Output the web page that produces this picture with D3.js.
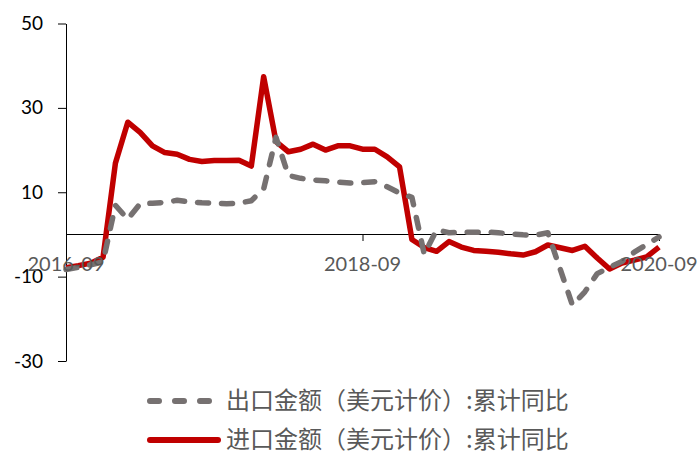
<!DOCTYPE html>
<html>
<head>
<meta charset="utf-8">
<script src="https://cdn.jsdelivr.net/npm/d3@7"></script>
<style>
body { margin: 0; background: #fff; }
</style>
</head>
<body>
<div id="chart"></div>
<script>
var width = 697, height = 453;

// months with data (no separate Jan 2020 figure)
var months = [
  "2016-09","2016-10","2016-11","2016-12",
  "2017-01","2017-02","2017-03","2017-04","2017-05","2017-06","2017-07","2017-08","2017-09","2017-10","2017-11","2017-12",
  "2018-01","2018-02","2018-03","2018-04","2018-05","2018-06","2018-07","2018-08","2018-09","2018-10","2018-11","2018-12",
  "2019-01","2019-02","2019-03","2019-04","2019-05","2019-06","2019-07","2019-08","2019-09","2019-10","2019-11","2019-12",
  "2020-02","2020-03","2020-04","2020-05","2020-06","2020-07","2020-08","2020-09"
];
var exportYoY = [
  -8.3, -7.8, -7.2, -6.5,
  6.9, 3.6, 7.3, 7.4, 7.6, 8.1, 7.7, 7.5, 7.4, 7.3, 7.4, 8.0,
  10.8, 23.0, 14.0, 13.3, 12.9, 12.7, 12.4, 12.2, 12.3, 12.5, 11.3, 9.8,
  8.8, -4.7, 1.1, 0.4, 0.5, 0.5, 0.6, 0.4, 0.1, -0.1, -0.2, 0.4,
  -16.8, -13.6, -9.3, -7.8, -6.4, -4.2, -2.4, -0.6
];
var importYoY = [
  -7.9, -7.4, -6.8, -5.4,
  16.9, 26.6, 24.2, 21.0, 19.4, 19.0, 17.8, 17.3, 17.5, 17.5, 17.6, 16.2,
  37.4, 22.0, 19.6, 20.2, 21.4, 20.0, 21.0, 21.0, 20.2, 20.2, 18.4, 16.0,
  -1.2, -3.1, -4.0, -1.7, -3.0, -3.8, -4.0, -4.2, -4.6, -4.9, -4.1, -2.5,
  -3.8, -2.8, -5.6, -8.2, -6.8, -6.1, -5.3, -3.0
];
var yTicks = [-30, -10, 10, 30, 50];
var xTickLabels = ["2016-09", "2018-09", "2020-09"];
var seriesNames = ["出口金额（美元计价）:累计同比", "进口金额（美元计价）:累计同比"];

var grey = "#767171", red = "#C00000";

function monthIndex(s) {
  var p = s.split("-");
  return (+p[0] - 2016) * 12 + (+p[1] - 9);
}

var svg = d3.select("#chart").append("svg")
    .attr("width", width)
    .attr("height", height)
    .style("font-family", "Lato, 'Liberation Sans', sans-serif");

var x = d3.scaleLinear().domain([0, 48]).range([66, 659]);
var y = d3.scaleLinear().domain([-30, 50]).range([361, 23.5]);

// y axis
var yAxis = svg.append("g")
    .attr("transform", "translate(66,0)")
    .call(d3.axisLeft(y).tickValues(yTicks).tickSize(8).tickSizeOuter(0).tickPadding(15)
      .tickFormat(d => String(d)));  // plain hyphen like the original
yAxis.selectAll("text").attr("font-size", 19).attr("font-family", "Lato, 'Liberation Sans', sans-serif").attr("fill", "#000");
yAxis.selectAll("line, path").attr("stroke", "#000");

// x axis at zero (rounded so the 1px line stays crisp)
var xTicks = xTickLabels.map(monthIndex);
var xAxis = svg.append("g")
    .attr("transform", "translate(0," + Math.round(y(0)) + ")")
    .call(d3.axisBottom(x).tickValues(xTicks).tickSize(7).tickSizeOuter(0).tickFormat(""));
xAxis.selectAll("line, path").attr("stroke", "#000");

var data = months.map(function(m, i) {
  return {m: monthIndex(m), ex: exportYoY[i], im: importYoY[i]};
});

var lineIm = d3.line().x(d => x(d.m)).y(d => y(d.im));
var lineEx = d3.line().x(d => x(d.m)).y(d => y(d.ex));

svg.append("path")
    .datum(data)
    .attr("d", lineIm)
    .attr("fill", "none")
    .attr("stroke", red)
    .attr("stroke-width", 5.5)
    .attr("stroke-linejoin", "round");

svg.append("path")
    .datum(data)
    .attr("d", lineEx)
    .attr("fill", "none")
    .attr("stroke", grey)
    .attr("stroke-width", 5.5)
    .attr("stroke-linejoin", "round")
    .attr("stroke-linecap", "round")
    .attr("stroke-dasharray", "11,13");

// x labels sit on top of the lines
svg.append("g").selectAll("text")
    .data(xTickLabels)
    .enter().append("text")
    .attr("x", d => x(monthIndex(d)))
    .attr("y", y(0) + 37)
    .attr("text-anchor", "middle")
    .attr("font-size", 20)
    .attr("fill", "#595959")
    .text(d => d);

// legend
var legend = svg.append("g");
var rows = [
  {name: seriesNames[0], color: grey, dash: "9,16", y: 401, x2: 211},
  {name: seriesNames[1], color: red, dash: null, y: 440, x2: 218}
];
rows.forEach(function(r) {
  legend.append("line")
      .attr("x1", 150).attr("x2", r.x2)
      .attr("y1", r.y).attr("y2", r.y)
      .attr("stroke", r.color)
      .attr("stroke-width", 6)
      .attr("stroke-linecap", "round")
      .attr("stroke-dasharray", r.dash);
  legend.append("text")
      .attr("x", 226)
      .attr("y", r.y)
      .attr("dy", "0.35em")
      .attr("font-size", 24)
      .attr("font-family", "'Noto Sans CJK SC', sans-serif")
      .attr("fill", "#595959")
      .text(r.name);
});
</script>
</body>
</html>
